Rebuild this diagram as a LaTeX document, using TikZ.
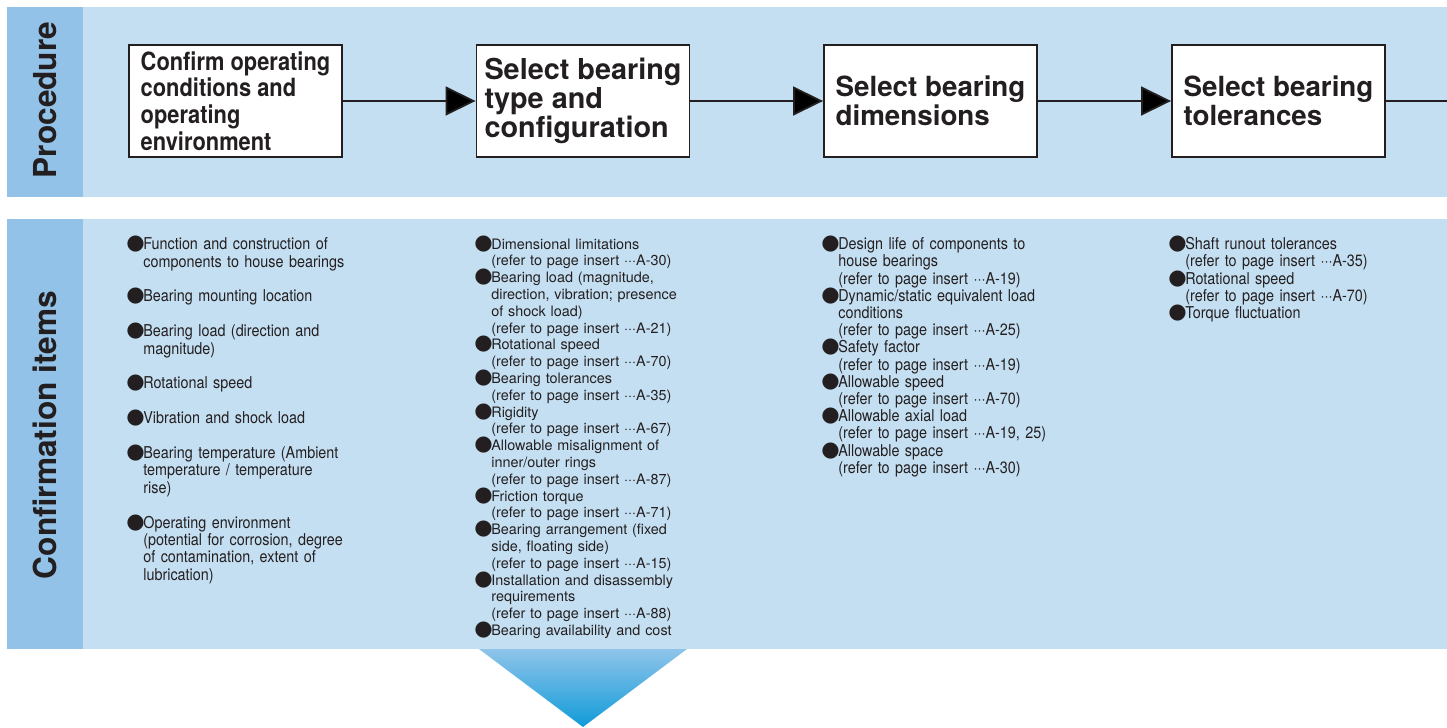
\documentclass[tikz,border=0pt]{standalone}
\usepackage{fontspec}
\setmainfont{TeX Gyre Heros}
\newfontfamily\itemnarrow[FakeStretch=0.88]{TeX Gyre Heros}
\newfontfamily\boxnarrow[FakeStretch=0.87]{TeX Gyre Heros}
\newfontfamily\dotfont{DejaVu Sans}
\usepackage{xcolor}
\usetikzlibrary{arrows.meta}

\definecolor{stripblue}{RGB}{146,194,232}
\definecolor{bandblue}{RGB}{197,223,242}
\definecolor{inkdark}{RGB}{35,31,32}
\definecolor{tritop}{RGB}{143,196,234}
\definecolor{tribot}{RGB}{16,155,216}

\newlength\bhang
\setlength\bhang{0.28cm}
\newcommand\bl[1]{\par\noindent\llap{\smash{\makebox[\bhang][l]{\hspace*{-0.06cm}\dotfont\fontsize{12}{12}\selectfont ●}}}#1}
\newcommand\gap{\par\vspace{\baselineskip}}

\begin{document}
\begin{tikzpicture}[x=0.02cm,y=-0.02cm,
		stepbox/.style={shape=rectangle,draw=inkdark,fill=white,line width=1.1pt,minimum width=4.26cm,minimum height=2.24cm,inner sep=0pt,align=left,text=inkdark},
		sidelabel/.style={rotate=90,font=\bfseries\fontsize{18}{18}\selectfont,text=inkdark,inner sep=0pt},
		items/.style={anchor=north west,inner sep=0pt,text width=6cm,align=left,text=inkdark},
		colA/.style={font=\itemnarrow\fontsize{9.3}{9.9}\selectfont},
		colB/.style={font=\fontsize{8.2}{9.56}\selectfont},
		colC/.style={font=\itemnarrow\fontsize{9.3}{9.8}\selectfont},
		flow/.style={draw=inkdark,line width=1pt,-{Triangle[length=0.6cm,width=0.58cm]}},
		link/.style={draw=inkdark,line width=1pt}]
	\useasboundingbox (0,0) rectangle (1447,727);

	%% bands
	\fill[bandblue] (83,7) rectangle (1447,197);
	\fill[stripblue] (7,7) rectangle (83,197);
	\fill[bandblue] (83,219) rectangle (1447,649);
	\fill[stripblue] (7,219) rectangle (83,649);
	\shade[top color=tritop,bottom color=tribot] (479,649) -- (687,649) -- (583,727) -- cycle;

	\node[sidelabel] (proc) at (45,100) {Procedure};
	\node[sidelabel] (conf) at (45,435) {Confirmation items};

	%% steps
	\node[stepbox,font=\boxnarrow\bfseries\fontsize{14.3}{15.2}\selectfont] (s1) at (235.5,101) {Confirm operating\\conditions and\\operating\\environment};
	\node[stepbox,font=\bfseries\fontsize{16.4}{16.5}\selectfont] (s2) at (583,101) {Select bearing\\type and\\configuration};
	\node[stepbox,font=\bfseries\fontsize{15.8}{16.5}\selectfont] (s3) at (930.5,101) {Select bearing\\dimensions};
	\node[stepbox,font=\bfseries\fontsize{15.8}{16.5}\selectfont] (s4) at (1278.5,101) {Select bearing\\tolerances};
	\coordinate (rend) at (1447,101);

	%% lines
	\draw[flow] (s1) edge (s2);
	\draw[flow] (s2) edge (s3);
	\draw[flow] (s3) edge (s4);
	\draw[link] (s4) -- (rend);

	%% confirmation items
	\node[items,colA] (c1) at (143,232) {%
		\bl{Function and construction of\\components to house bearings}\gap
		\bl{Bearing mounting location}\gap
		\bl{Bearing load (direction and\\magnitude)}\gap
		\bl{Rotational speed}\gap
		\bl{Vibration and shock load}\gap
		\bl{Bearing temperature (Ambient\\temperature / temperature\\rise)}\gap
		\bl{Operating environment\\(potential for corrosion, degree\\of contamination, extent of\\lubrication)}};
	\node[items,colB] (c2) at (491,232) {%
		\bl{Dimensional limitations\\(refer to page insert ···A-30)}
		\bl{Bearing load (magnitude,\\direction, vibration; presence\\of shock load)\\(refer to page insert ···A-21)}
		\bl{Rotational speed\\(refer to page insert ···A-70)}
		\bl{Bearing tolerances\\(refer to page insert ···A-35)}
		\bl{Rigidity\\(refer to page insert ···A-67)}
		\bl{Allowable misalignment of\\inner/outer rings\\(refer to page insert ···A-87)}
		\bl{Friction torque\\(refer to page insert ···A-71)}
		\bl{Bearing arrangement (fixed\\side, floating side)\\(refer to page insert ···A-15)}
		\bl{Installation and disassembly\\requirements\\(refer to page insert ···A-88)}
		\bl{Bearing availability and cost}};
	\node[items,colC] (c3) at (838,232) {%
		\bl{Design life of components to\\house bearings\\(refer to page insert ···A-19)}
		\bl{Dynamic/static equivalent load\\conditions\\(refer to page insert ···A-25)}
		\bl{Safety factor\\(refer to page insert ···A-19)}
		\bl{Allowable speed\\(refer to page insert ···A-70)}
		\bl{Allowable axial load\\(refer to page insert ···A-19, 25)}
		\bl{Allowable space\\(refer to page insert ···A-30)}};
	\node[items,colC] (c4) at (1185,232) {%
		\bl{Shaft runout tolerances\\(refer to page insert ···A-35)}
		\bl{Rotational speed\\(refer to page insert ···A-70)}
		\bl{Torque fluctuation}};
\end{tikzpicture}
\end{document}
